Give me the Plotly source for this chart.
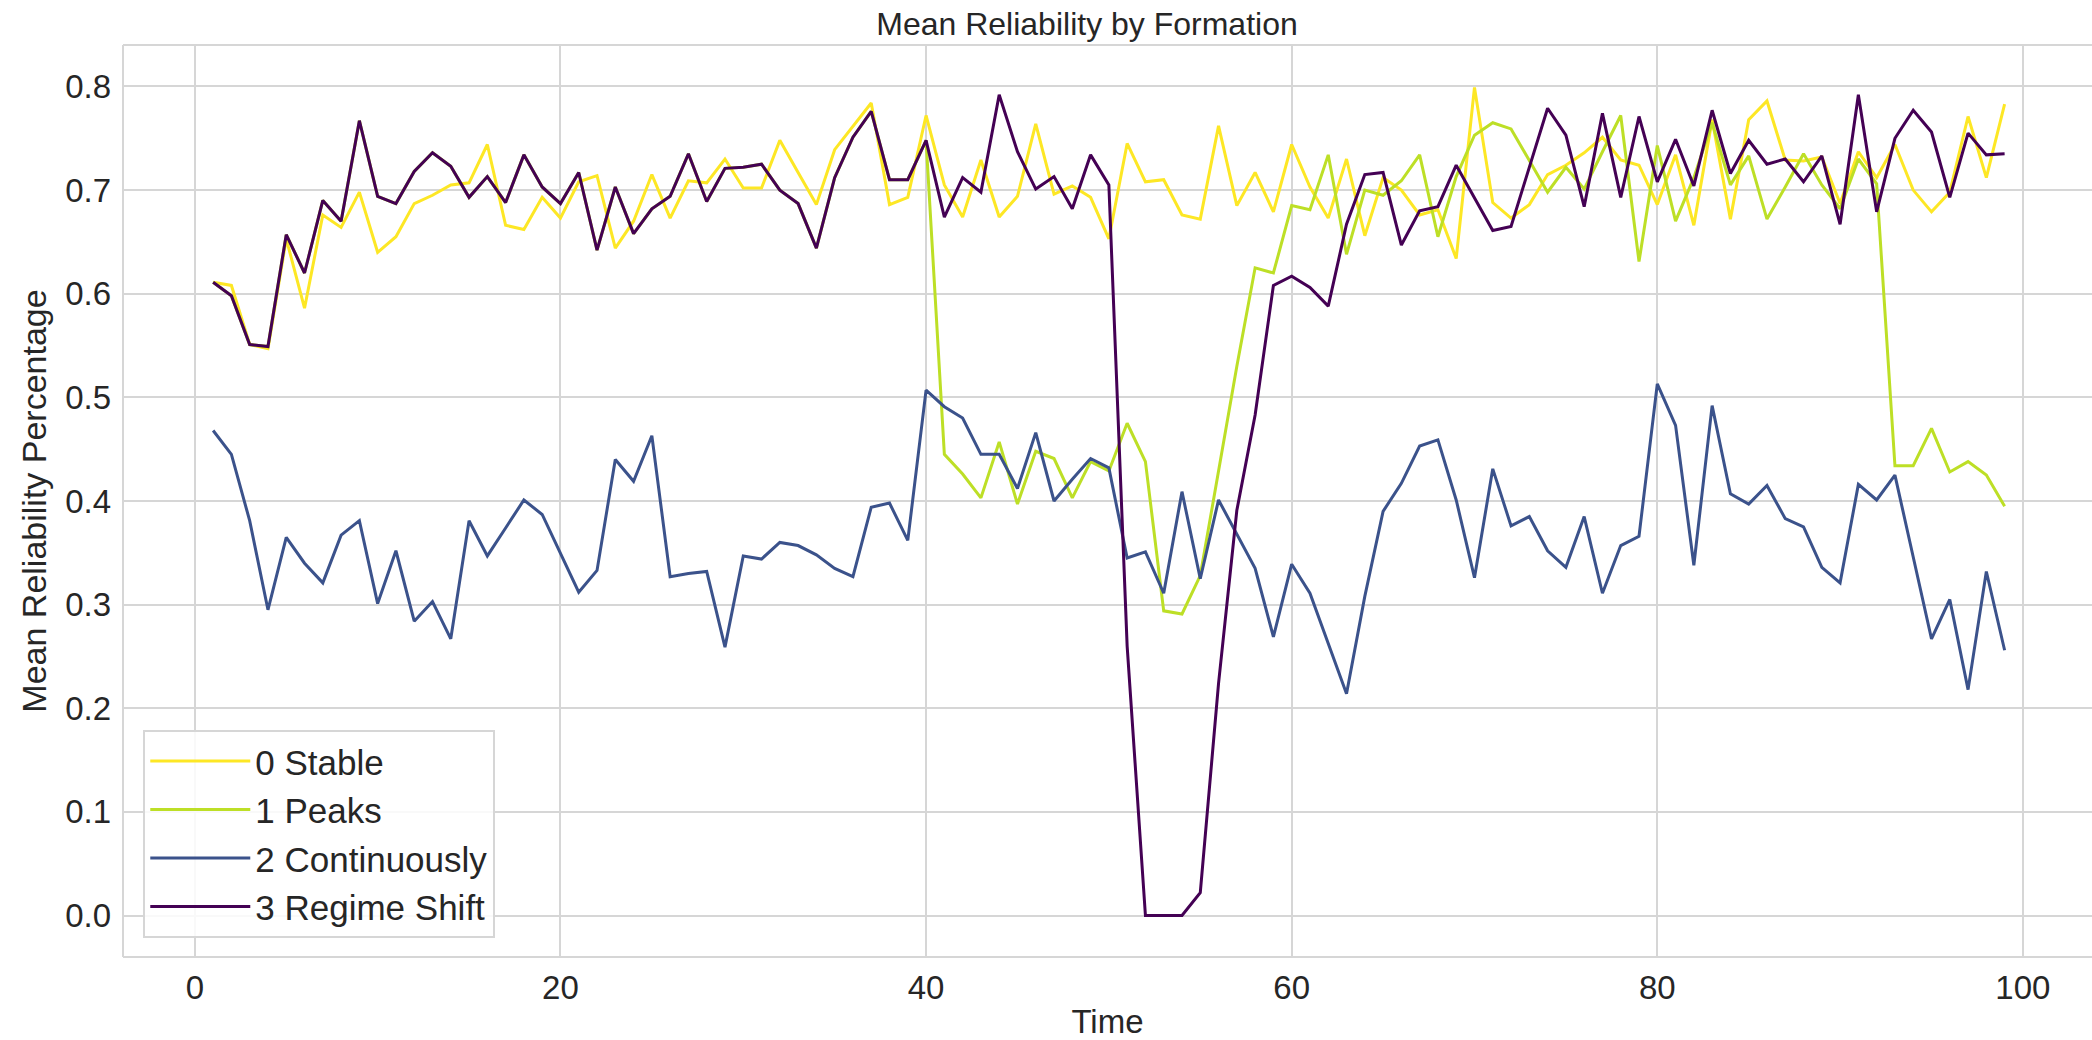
import plotly.graph_objects as go

time = list(range(1, 100))

stable = [0.611, 0.608, 0.551, 0.547, 0.653, 0.586, 0.676, 0.664, 0.698, 0.640,
          0.655, 0.687, 0.695, 0.705, 0.707, 0.744, 0.666, 0.662, 0.693, 0.673,
          0.708, 0.714, 0.644, 0.670, 0.715, 0.673, 0.709, 0.707, 0.730, 0.702,
          0.702, 0.748, 0.717, 0.686, 0.739, 0.761, 0.784, 0.686, 0.693, 0.772,
          0.705, 0.674, 0.729, 0.674, 0.694, 0.764, 0.696, 0.704, 0.693, 0.653,
          0.745, 0.708, 0.710, 0.676, 0.672, 0.762, 0.685, 0.717, 0.679, 0.744,
          0.703, 0.673, 0.730, 0.656, 0.712, 0.700, 0.676, 0.681, 0.634, 0.799,
          0.688, 0.673, 0.686, 0.715, 0.724, 0.736, 0.751, 0.729, 0.724, 0.686,
          0.734, 0.666, 0.768, 0.672, 0.768, 0.786, 0.729, 0.728, 0.732, 0.687,
          0.737, 0.712, 0.744, 0.700, 0.679, 0.698, 0.771, 0.712, 0.783]

regime_shift = [0.611, 0.598, 0.551, 0.549, 0.657, 0.620, 0.690, 0.670, 0.767, 0.694,
                0.687, 0.718, 0.736, 0.723, 0.693, 0.713, 0.688, 0.734, 0.703, 0.687,
                0.717, 0.642, 0.703, 0.658, 0.682, 0.694, 0.735, 0.689, 0.721, 0.722,
                0.725, 0.700, 0.687, 0.644, 0.712, 0.751, 0.776, 0.710, 0.710, 0.748,
                0.674, 0.712, 0.698, 0.792, 0.737, 0.701, 0.713, 0.682, 0.734, 0.705,
                0.260, 0.000, 0.000, 0.000, 0.022, 0.224, 0.391, 0.483, 0.608, 0.617,
                0.606, 0.588, 0.667, 0.715, 0.717, 0.647, 0.680, 0.684, 0.724, 0.693,
                0.661, 0.665, 0.722, 0.779, 0.753, 0.684, 0.774, 0.693, 0.771, 0.708,
                0.749, 0.704, 0.777, 0.716, 0.748, 0.725, 0.730, 0.708, 0.733, 0.667,
                0.792, 0.679, 0.750, 0.777, 0.756, 0.693, 0.755, 0.734, 0.735]

peaks = regime_shift[:40] + [
    0.445, 0.426, 0.403, 0.457, 0.397, 0.448, 0.441, 0.403, 0.438, 0.429,
    0.475, 0.438, 0.294, 0.291, 0.328, 0.430, 0.530, 0.625, 0.620, 0.685,
    0.681, 0.734, 0.638, 0.700, 0.695, 0.709, 0.734, 0.655, 0.713, 0.753,
    0.765, 0.759, 0.729, 0.698, 0.722, 0.701, 0.737, 0.772, 0.631, 0.743,
    0.670, 0.712, 0.765, 0.705, 0.733, 0.672, 0.703, 0.735, 0.705, 0.682,
    0.730, 0.706, 0.434, 0.434, 0.470, 0.428, 0.438, 0.425, 0.395]

continuously = [0.468, 0.445, 0.381, 0.295, 0.365, 0.340, 0.321, 0.367, 0.381, 0.301,
                0.352, 0.284, 0.303, 0.267, 0.381, 0.347, 0.374, 0.401, 0.387, 0.349,
                0.312, 0.333, 0.440, 0.419, 0.463, 0.327, 0.330, 0.332, 0.259, 0.347,
                0.344, 0.360, 0.357, 0.348, 0.335, 0.327, 0.394, 0.398, 0.362, 0.507,
                0.491, 0.480, 0.445, 0.445, 0.412, 0.466, 0.400, 0.421, 0.441, 0.432,
                0.345, 0.351, 0.311, 0.409, 0.325, 0.401, 0.368, 0.335, 0.269, 0.339,
                0.311, 0.262, 0.214, 0.308, 0.390, 0.417, 0.453, 0.459, 0.401, 0.326,
                0.431, 0.376, 0.385, 0.352, 0.336, 0.385, 0.311, 0.357, 0.366, 0.513,
                0.473, 0.338, 0.492, 0.407, 0.397, 0.415, 0.383, 0.375, 0.336, 0.321,
                0.416, 0.401, 0.425, 0.346, 0.267, 0.305, 0.218, 0.332, 0.256]

series_names = ["0 Stable", "1 Peaks", "2 Continuously", "3 Regime Shift"]
series_values = [stable, peaks, continuously, regime_shift]
series_colors = ["#fde725", "#bddf26", "#3b528b", "#440154"]

y_ticks = [0.0, 0.1, 0.2, 0.3, 0.4, 0.5, 0.6, 0.7, 0.8]
x_ticks = [0, 20, 40, 60, 80, 100]

FONT = "Liberation Sans, Arial, sans-serif"
TXT = "#262626"
GRID = "#d6d6d6"

fig = go.Figure()
for name, vals, col in zip(series_names, series_values, series_colors):
    fig.add_trace(go.Scatter(x=time, y=vals, mode="lines", name=name,
                             line=dict(color=col, width=3)))

fig.update_layout(
    width=2092, height=1040,
    margin=dict(l=123, r=0, t=45, b=83),
    paper_bgcolor="white", plot_bgcolor="white",
    font=dict(family=FONT, color=TXT, size=33),
    title=dict(text="Mean Reliability by Formation", x=1087 / 2092, xanchor="center",
               xref="container", yref="container", y=1 - 24 / 1040, yanchor="middle",
               font=dict(size=32, color=TXT)),
    showlegend=True,
    legend=dict(x=0.0103, y=0.021, xanchor="left", yanchor="bottom",
                bgcolor="rgba(255,255,255,0.85)", bordercolor="#d6d6d6", borderwidth=2,
                font=dict(size=35, color=TXT), tracegroupgap=0, itemwidth=100),
)
fig.update_xaxes(range=[-3.93, 103.78], tickvals=x_ticks, showgrid=True, gridcolor=GRID,
                 gridwidth=1.5, zeroline=False, showline=False, ticks="", automargin=False,
                 tickfont=dict(size=33, color=TXT), ticklabelstandoff=8,
                 title=dict(text="Time", font=dict(size=33, color=TXT), standoff=4))
fig.update_yaxes(range=[-0.04, 0.84], tickvals=y_ticks, tickformat=".1f", showgrid=True,
                 gridcolor=GRID, gridwidth=1.5, zeroline=False, showline=False, ticks="",
                 automargin=False,
                 tickfont=dict(size=33, color=TXT), ticklabelstandoff=11,
                 title=dict(text="Mean Reliability Percentage", font=dict(size=34, color=TXT),
                            standoff=8))
# light frame on left, top and bottom like the seaborn whitegrid spines
fig.add_shape(type="line", xref="paper", yref="paper", x0=0, x1=0, y0=0, y1=1,
              line=dict(color=GRID, width=2), layer="below")
fig.add_shape(type="line", xref="paper", yref="paper", x0=0, x1=1, y0=1, y1=1,
              line=dict(color=GRID, width=2), layer="below")
fig.add_shape(type="line", xref="paper", yref="paper", x0=0, x1=1, y0=0, y1=0,
              line=dict(color=GRID, width=2), layer="below")

fig.write_html("out.html", config={"displayModeBar": False},
               post_script="document.body.style.margin='0';document.body.style.padding='0';")
